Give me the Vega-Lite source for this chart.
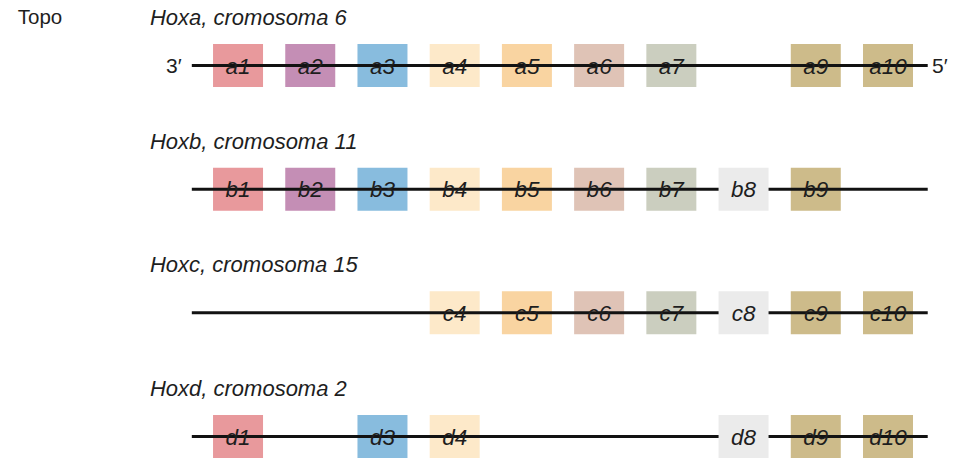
{
  "$schema": "https://vega.github.io/schema/vega-lite/v6.json",
  "width": 953,
  "height": 459,
  "autosize": "none",
  "padding": 0,
  "background": "white",
  "config": {"view": {"stroke": null}, "text": {"font": "Liberation Sans", "color": "#1e1e1e"}},
  "datasets": {
    "genes": [
      {"cluster": "a", "gene": 1, "label": "a1"},
      {"cluster": "a", "gene": 2, "label": "a2"},
      {"cluster": "a", "gene": 3, "label": "a3"},
      {"cluster": "a", "gene": 4, "label": "a4"},
      {"cluster": "a", "gene": 5, "label": "a5"},
      {"cluster": "a", "gene": 6, "label": "a6"},
      {"cluster": "a", "gene": 7, "label": "a7"},
      {"cluster": "a", "gene": 9, "label": "a9"},
      {"cluster": "a", "gene": 10, "label": "a10"},
      {"cluster": "b", "gene": 1, "label": "b1"},
      {"cluster": "b", "gene": 2, "label": "b2"},
      {"cluster": "b", "gene": 3, "label": "b3"},
      {"cluster": "b", "gene": 4, "label": "b4"},
      {"cluster": "b", "gene": 5, "label": "b5"},
      {"cluster": "b", "gene": 6, "label": "b6"},
      {"cluster": "b", "gene": 7, "label": "b7"},
      {"cluster": "b", "gene": 8, "label": "b8"},
      {"cluster": "b", "gene": 9, "label": "b9"},
      {"cluster": "c", "gene": 4, "label": "c4"},
      {"cluster": "c", "gene": 5, "label": "c5"},
      {"cluster": "c", "gene": 6, "label": "c6"},
      {"cluster": "c", "gene": 7, "label": "c7"},
      {"cluster": "c", "gene": 8, "label": "c8"},
      {"cluster": "c", "gene": 9, "label": "c9"},
      {"cluster": "c", "gene": 10, "label": "c10"},
      {"cluster": "d", "gene": 1, "label": "d1"},
      {"cluster": "d", "gene": 3, "label": "d3"},
      {"cluster": "d", "gene": 4, "label": "d4"},
      {"cluster": "d", "gene": 8, "label": "d8"},
      {"cluster": "d", "gene": 9, "label": "d9"},
      {"cluster": "d", "gene": 10, "label": "d10"}
    ],
    "clusters": [
      {"cluster": "a", "title": "Hoxa, cromosoma 6", "end3": "3′", "end5": "5′", "panel": "Topo"},
      {"cluster": "b", "title": "Hoxb, cromosoma 11", "end3": "", "end5": "", "panel": ""},
      {"cluster": "c", "title": "Hoxc, cromosoma 15", "end3": "", "end5": "", "panel": ""},
      {"cluster": "d", "title": "Hoxd, cromosoma 2", "end3": "", "end5": "", "panel": ""}
    ]
  },
  "encoding": {
    "y": {"field": "cluster", "type": "ordinal", "axis": null,
          "scale": {"type": "point", "domain": ["a", "b", "c", "d"], "range": [65.5, 436.5], "padding": 0}}
  },
  "layer": [
    {
      "data": {"name": "genes"},
      "transform": [{"filter": "datum.gene != 8"}],
      "mark": {"type": "rect", "width": 50, "height": 43},
      "encoding": {
        "x": {"field": "gene", "type": "quantitative", "axis": null,
              "scale": {"domain": [-2.296, 10.9], "nice": false, "zero": false}},
        "color": {"field": "gene", "type": "ordinal", "legend": null,
                  "scale": {"domain": [1, 2, 3, 4, 5, 6, 7, 8, 9, 10],
                            "range": ["#E8999C", "#C48EB5", "#88BCDE", "#FDE9C9", "#F9D4A1", "#DFC3B6", "#CBCEBF", "#EBEBEB", "#CDBB8A", "#CDBB8A"]}}
      }
    },
    {
      "data": {"name": "clusters"},
      "mark": {"type": "rule", "strokeWidth": 3, "color": "#121212"},
      "encoding": {
        "x": {"datum": 0.36, "type": "quantitative"},
        "x2": {"datum": 10.55}
      }
    },
    {
      "data": {"name": "genes"},
      "transform": [{"filter": "datum.gene == 8"}],
      "mark": {"type": "rect", "width": 50, "height": 43},
      "encoding": {
        "x": {"field": "gene", "type": "quantitative"},
        "color": {"field": "gene", "type": "ordinal", "legend": null}
      }
    },
    {
      "data": {"name": "genes"},
      "mark": {"type": "text", "fontStyle": "italic", "fontSize": 22.5, "baseline": "middle", "align": "center", "dy": 1},
      "encoding": {
        "x": {"field": "gene", "type": "quantitative"},
        "text": {"field": "label"}
      }
    },
    {
      "data": {"name": "clusters"},
      "mark": {"type": "text", "fontStyle": "italic", "fontSize": 22, "baseline": "middle", "align": "left", "dy": -47.5},
      "encoding": {
        "x": {"datum": -0.22, "type": "quantitative"},
        "text": {"field": "title"}
      }
    },
    {
      "data": {"name": "clusters"},
      "mark": {"type": "text", "fontSize": 21, "baseline": "middle", "align": "right", "dy": 1},
      "encoding": {
        "x": {"datum": 0.22, "type": "quantitative"},
        "text": {"field": "end3"}
      }
    },
    {
      "data": {"name": "clusters"},
      "mark": {"type": "text", "fontSize": 21, "baseline": "middle", "align": "left", "dy": 1},
      "encoding": {
        "x": {"datum": 10.61, "type": "quantitative"},
        "text": {"field": "end5"}
      }
    },
    {
      "data": {"name": "clusters"},
      "mark": {"type": "text", "fontSize": 20.5, "baseline": "middle", "align": "left", "dy": -47.5},
      "encoding": {
        "x": {"datum": -2.05, "type": "quantitative"},
        "text": {"field": "panel"}
      }
    }
  ]
}
